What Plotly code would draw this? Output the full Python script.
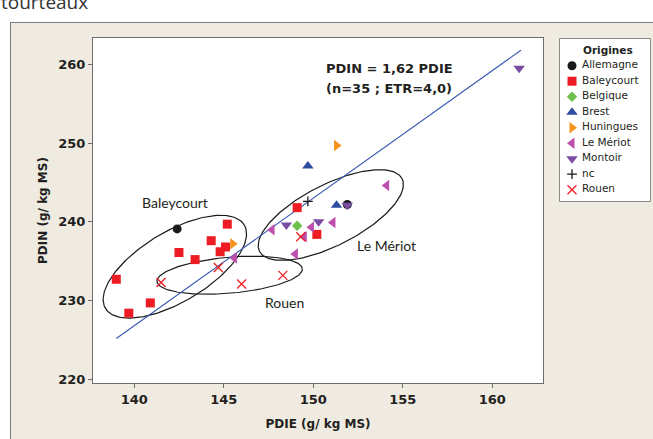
import numpy as np
import plotly.graph_objects as go

# ---------------- data ----------------
categories = ["Allemagne", "Baleycourt", "Belgique", "Brest", "Huningues",
              "Le Mériot", "Montoir", "nc", "Rouen"]

allemagne_x = [142.4, 151.9]
allemagne_y = [239.1, 242.2]
baleycourt_x = [145.2, 144.3, 145.1, 144.8, 142.5, 143.4, 139.0, 140.9, 139.7, 149.1, 150.2]
baleycourt_y = [239.7, 237.6, 236.8, 236.2, 236.1, 235.2, 232.7, 229.7, 228.4, 241.8, 238.4]
belgique_x = [149.1]
belgique_y = [239.5]
brest_x = [149.7, 151.3]
brest_y = [247.1, 242.1]
huningues_x = [145.5, 151.3]
huningues_y = [237.2, 249.7]
le_meriot_x = [145.6, 147.7, 149.5, 149.0, 149.9, 151.1, 154.1]
le_meriot_y = [235.4, 239.0, 238.1, 235.9, 239.3, 239.9, 244.6]
montoir_x = [148.5, 150.3, 151.9, 161.5]
montoir_y = [239.6, 240.0, 242.1, 259.5]
nc_x = [149.7]
nc_y = [242.6]
rouen_x = [141.5, 144.7, 146.0, 148.3, 149.3]
rouen_y = [232.3, 234.2, 232.1, 233.2, 238.1]

slope = 1.62
fit_x = [139.0, 161.6]

x_ticks = [140, 145, 150, 155, 160]
y_ticks = [220, 230, 240, 250, 260]

group_labels = ["Baleycourt", "Rouen", "Le Mériot"]

# ---------------- layout geometry ----------------
W, H = 653, 439
ML, MT, MB, MR = 93, 38, 56, 0
PW = W - ML - MR          # 560
PH = H - MT - MB          # 345
MAIN_W = 450
x_range = [137.7, 162.83]
y_range = [219.53, 263.34]
px_per_x = MAIN_W / (x_range[1] - x_range[0])
px_per_y = PH / (y_range[1] - y_range[0])


def pxx(px):
    return (px - ML) / PW


def pxy(py):
    return (H - MB - py) / PH


styles = {
    "Allemagne": dict(symbol="circle", color="#1a1a1a", size=9),
    "Baleycourt": dict(symbol="square", color="#ED1C24", size=9),
    "Belgique": dict(symbol="diamond", color="#6CBF4A", size=8),
    "Brest": dict(symbol="triangle-up", color="#2E4DA0", size=10),
    "Huningues": dict(symbol="triangle-right", color="#F7941D", size=10),
    "Le Mériot": dict(symbol="triangle-left", color="#BE4FAC", size=10),
    "Montoir": dict(symbol="triangle-down", color="#7B4CA4", size=10),
    "nc": dict(symbol="cross-thin", color="#1a1a1a", size=7),
    "Rouen": dict(symbol="x-thin", color="#ED1C24", size=9),
}

series = {
    "Allemagne": (allemagne_x, allemagne_y),
    "Baleycourt": (baleycourt_x, baleycourt_y),
    "Belgique": (belgique_x, belgique_y),
    "Brest": (brest_x, brest_y),
    "Huningues": (huningues_x, huningues_y),
    "Le Mériot": (le_meriot_x, le_meriot_y),
    "Montoir": (montoir_x, montoir_y),
    "nc": (nc_x, nc_y),
    "Rouen": (rouen_x, rouen_y),
}

fig = go.Figure()

# ellipses (center in data units, semi-axes in px, angle in degrees)
ellipses = [
    (142.27, 234.30, 81, 35, 31),
    (145.33, 233.22, 73, 18, 5),
    (150.98, 240.86, 80, 30.5, 27),
]
t = np.linspace(0, 2 * np.pi, 200)
for cx, cy, a, b, ang in ellipses:
    th = np.radians(ang)
    dx = a * np.cos(t) * np.cos(th) - b * np.sin(t) * np.sin(th)
    dy = a * np.cos(t) * np.sin(th) + b * np.sin(t) * np.cos(th)
    fig.add_trace(go.Scatter(x=cx + dx / px_per_x, y=cy + dy / px_per_y, mode="lines",
                             line=dict(color="#1a1a1a", width=1.2), hoverinfo="skip",
                             showlegend=False))

# regression line
fig.add_trace(go.Scatter(x=fit_x, y=[slope * v for v in fit_x], mode="lines",
                         line=dict(color="#3557B0", width=1.1), hoverinfo="skip",
                         showlegend=False))

for cat in categories:
    st = styles[cat]
    xs, ys = series[cat]
    thin = st["symbol"].endswith("-thin")
    marker = dict(symbol=st["symbol"], size=st["size"], color=st["color"])
    if thin:
        marker["line"] = dict(color=st["color"], width=1.3)
    else:
        marker["line"] = dict(width=0)
    fig.add_trace(go.Scatter(x=xs, y=ys, mode="markers", name=cat, marker=marker,
                             showlegend=False))

# custom legend on a second pair of axes
LEG_W, LEG_H = 92, 164
leg_y0 = 27.7
leg_dy = 15.5
for i, cat in enumerate(categories):
    st = styles[cat]
    thin = st["symbol"].endswith("-thin")
    marker = dict(symbol=st["symbol"], size=st["size"], color=st["color"])
    marker["line"] = dict(color=st["color"], width=1.3) if thin else dict(width=0)
    fig.add_trace(go.Scatter(x=[13], y=[leg_y0 + i * leg_dy], mode="markers", marker=marker,
                             xaxis="x2", yaxis="y2", showlegend=False, hoverinfo="skip"))
fig.add_trace(go.Scatter(x=[23] * len(categories),
                         y=[leg_y0 + i * leg_dy for i in range(len(categories))],
                         text=categories, mode="text", textposition="middle right",
                         textfont=dict(family="DejaVu Sans", size=10.5, color="#231F20"),
                         xaxis="x2", yaxis="y2", showlegend=False, hoverinfo="skip"))

shapes = [
    # white outside the frame
    dict(type="rect", xref="paper", yref="paper", x0=pxx(0), x1=pxx(10), y0=pxy(H + 5), y1=pxy(-5),
         fillcolor="white", line=dict(width=0), layer="below"),
    dict(type="rect", xref="paper", yref="paper", x0=pxx(0), x1=pxx(W + 5), y0=pxy(22), y1=pxy(-5),
         fillcolor="white", line=dict(width=0), layer="below"),
    dict(type="line", xref="paper", yref="paper", x0=pxx(10.5), x1=pxx(10.5), y0=pxy(22), y1=pxy(H + 5),
         line=dict(color="#7a7a7a", width=1)),
    dict(type="line", xref="paper", yref="paper", x0=pxx(10), x1=pxx(W + 5), y0=pxy(22.5), y1=pxy(22.5),
         line=dict(color="#7a7a7a", width=1)),
    # legend box
    dict(type="rect", xref="x2", yref="y2", x0=0.5, x1=LEG_W - 0.5, y0=0.5, y1=LEG_H - 0.5,
         fillcolor="white", line=dict(color="#8a8a8a", width=1), layer="below"),
]

annotations = [
    dict(text="tourteaux", xref="paper", yref="paper", x=pxx(-1), y=pxy(2), xanchor="left",
         yanchor="middle", showarrow=False, font=dict(family="Open Sans", size=19, color="#333333")),
    dict(text="<b>Origines</b>", xref="x2", yref="y2", x=LEG_W / 2 + 3, y=12, showarrow=False,
         font=dict(family="DejaVu Sans", size=10.5, color="#231F20")),
    dict(text="<b>PDIN = 1,62 PDIE</b>", x=150.6, y=259.5, xanchor="left", showarrow=False,
         font=dict(family="DejaVu Sans", size=13, color="#231F20")),
    dict(text="<b>(n=35 ; ETR=4,0)</b>", x=150.6, y=256.95, xanchor="left", showarrow=False,
         font=dict(family="DejaVu Sans", size=13, color="#231F20")),
]
label_pos = [(142.27, 242.48), (148.42, 229.78), (154.1, 236.93)]
for lab, (lx, ly) in zip(group_labels, label_pos):
    annotations.append(dict(text=lab, x=lx, y=ly, showarrow=False,
                            font=dict(family="Lato", size=14, color="#231F20")))

tickfont = dict(family="DejaVu Sans", size=13, color="#231F20", weight="bold")
titlefont = dict(family="DejaVu Sans", size=12, color="#231F20", weight="bold")

fig.update_layout(
    width=W, height=H, autosize=False,
    margin=dict(l=ML, r=MR, t=MT, b=MB, pad=0),
    paper_bgcolor="#EFEBE1", plot_bgcolor="white",
    showlegend=False,
    xaxis=dict(domain=[0, MAIN_W / PW], range=x_range, tickvals=x_ticks, ticks="outside",
               ticklen=4, tickcolor="#6d6d6d", showline=True, mirror=True, linecolor="#6d6d6d",
               linewidth=1, showgrid=False, zeroline=False, tickfont=tickfont,
               title=dict(text="PDIE (g/ kg MS)", font=titlefont, standoff=14)),
    yaxis=dict(domain=[0, 1], range=y_range, tickvals=y_ticks, ticks="outside",
               ticklen=4, tickcolor="#6d6d6d", showline=True, mirror=True, linecolor="#6d6d6d",
               linewidth=1, showgrid=False, zeroline=False, tickfont=tickfont,
               title=dict(text="PDIN (g/ kg MS)", font=titlefont, standoff=8)),
    xaxis2=dict(domain=[pxx(559), pxx(559 + LEG_W)], range=[0, LEG_W], visible=False,
                anchor="y2", fixedrange=True),
    yaxis2=dict(domain=[pxy(38 + LEG_H), pxy(38)], range=[LEG_H, 0], visible=False,
                anchor="x2", fixedrange=True),
    shapes=shapes,
    annotations=annotations,
)

fig.write_html("out.html", config={"displayModeBar": False},
               post_script="document.body.style.margin='0';document.body.style.overflow='hidden';")
